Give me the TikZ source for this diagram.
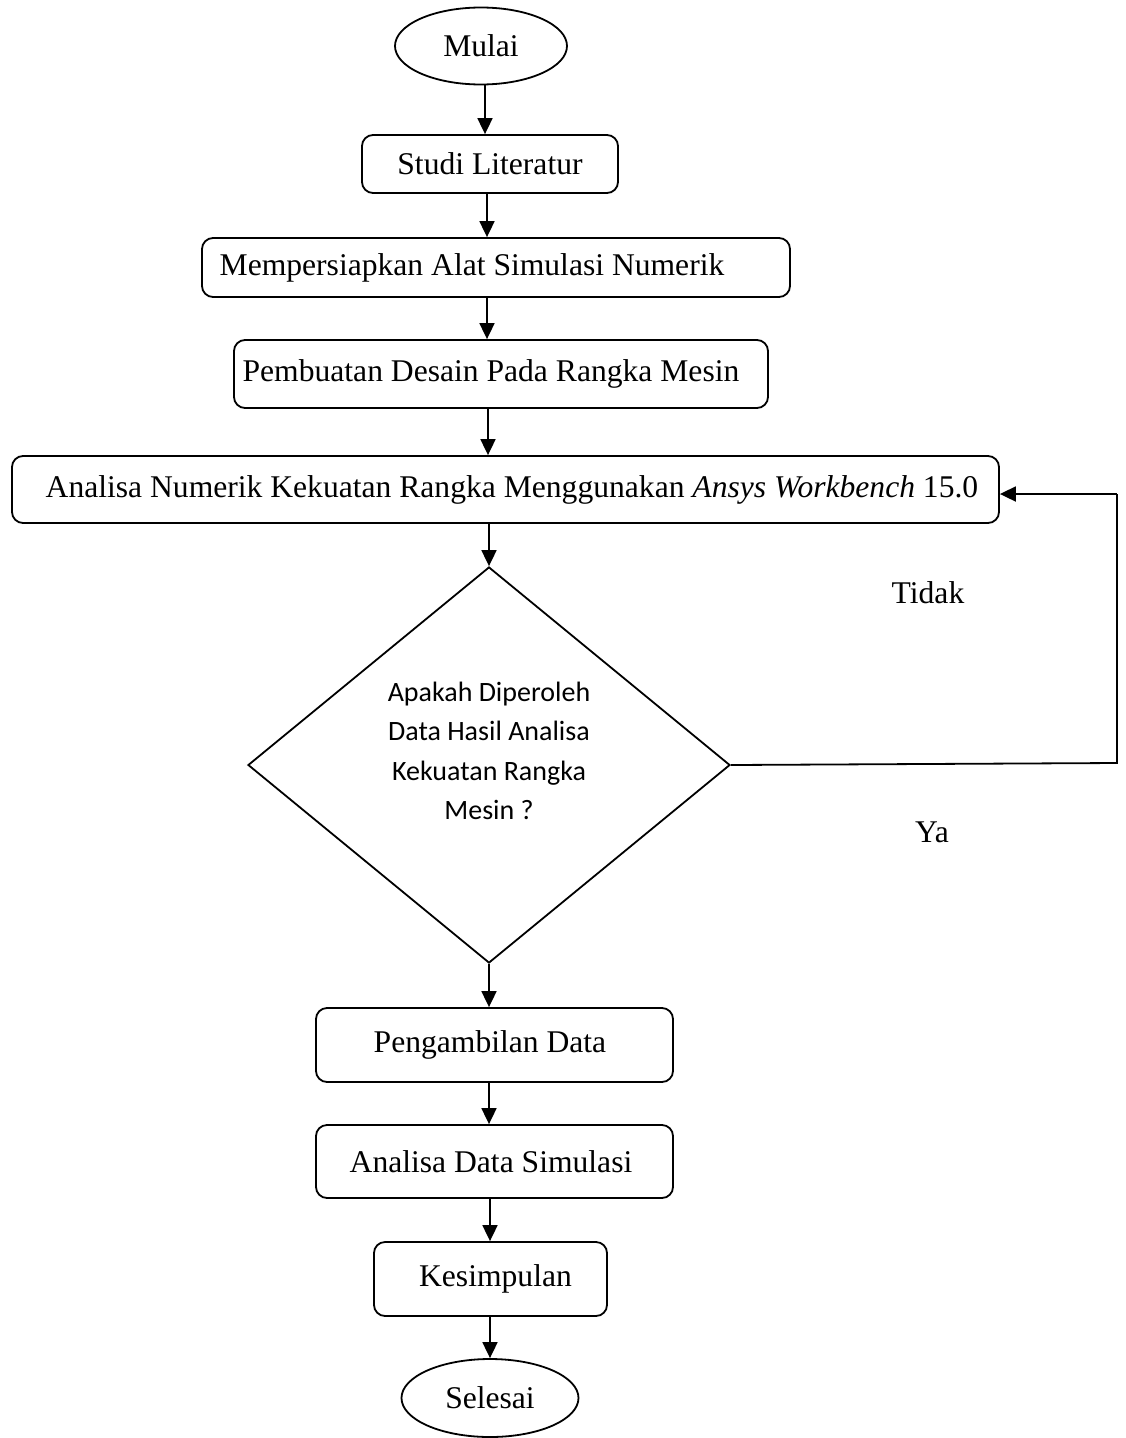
\documentclass[tikz,border=0pt]{standalone}
\usepackage{fontspec}
\setmainfont{Liberation Serif}
\newfontfamily\diafont{Carlito}
\usetikzlibrary{shapes.geometric,arrows.meta}
\begin{document}
\begin{tikzpicture}[x=1pt,y=-1pt,
  every node/.style={font=\fontsize{31.6}{38}\selectfont},
  line/.style={line width=1.8pt},
  arr/.style={line width=1.8pt,-{Triangle[width=15pt,length=16pt]}},
  procbox/.style={draw,line width=1.8pt,rounded corners=11pt,inner sep=0pt},
  term/.style={draw,ellipse,line width=1.8pt,inner sep=0pt},
  lbl/.style={inner sep=0pt}]
\useasboundingbox (0,0) rectangle (1126,1438);
\node[term,minimum width=172pt,minimum height=77pt] (mulai) at (481,46) {Mulai};
\node[procbox,minimum width=256pt,minimum height=58pt] (studi) at (490,164) {Studi Literatur};
\node[procbox,minimum width=588pt,minimum height=59pt] (siap) at (496,267.5) {\hspace*{-48pt}Mempersiapkan Alat Simulasi Numerik};
\node[procbox,minimum width=534pt,minimum height=68pt] (buat) at (501,374) {\hspace*{-20pt}Pembuatan Desain Pada Rangka Mesin};
\node[procbox,minimum width=987pt,minimum height=67pt] (ana) at (505.5,489.5) {Analisa Numerik Kekuatan Rangka Menggunakan \textit{Ansys Workbench} 15.0\hspace*{-13pt}};
\node[draw,diamond,line width=1.8pt,inner sep=0pt,shape aspect=1.21,minimum width=482pt,minimum height=396pt] (dia) at (489,765) {};
\node[lbl,align=center,font=\diafont\fontsize{28}{39.5}\selectfont] (diatext) at (489,751)
  {Apakah Diperoleh\\Data Hasil Analisa\\Kekuatan Rangka\\Mesin ?};
\node[procbox,minimum width=357pt,minimum height=74pt] (ambil) at (494.5,1045) {\hspace*{-9pt}Pengambilan Data};
\node[procbox,minimum width=357pt,minimum height=73pt] (adata) at (494.5,1161.5) {\hspace*{-7pt}Analisa Data Simulasi};
\node[procbox,minimum width=233pt,minimum height=74pt] (simp) at (490.5,1279) {Kesimpulan\hspace*{-10pt}};
\node[term,minimum width=177pt,minimum height=78pt] (selesai) at (490,1398) {Selesai};
\node[lbl] (tidak) at (928,593) {Tidak};
\node[lbl] (ya) at (932,832) {Ya};
\coordinate (c1) at (1117,763);
\coordinate (c2) at (1117,494);
\draw[arr] (485,85) -- (studi.north -| 485,0);
\draw[arr] (studi.south -| 487,0) -- (siap.north -| 487,0);
\draw[arr] (siap.south -| 487,0) -- (buat.north -| 487,0);
\draw[arr] (buat.south -| 488,0) -- (ana.north -| 488,0);
\draw[arr] (ana.south -| 489,0) -- (dia.north);
\draw[arr] (dia.south) -- (ambil.north -| dia.south);
\draw[arr] (ambil.south -| 489,0) -- (adata.north -| 489,0);
\draw[arr] (adata.south -| 490,0) -- (simp.north -| 490,0);
\draw[arr] (simp.south -| 490,0) -- (selesai.north -| 490,0);
\draw[line] (dia.east) -- (c1) -- (c2);
\draw[arr] (c2) -- (c2 -| ana.east);
\end{tikzpicture}
\end{document}
